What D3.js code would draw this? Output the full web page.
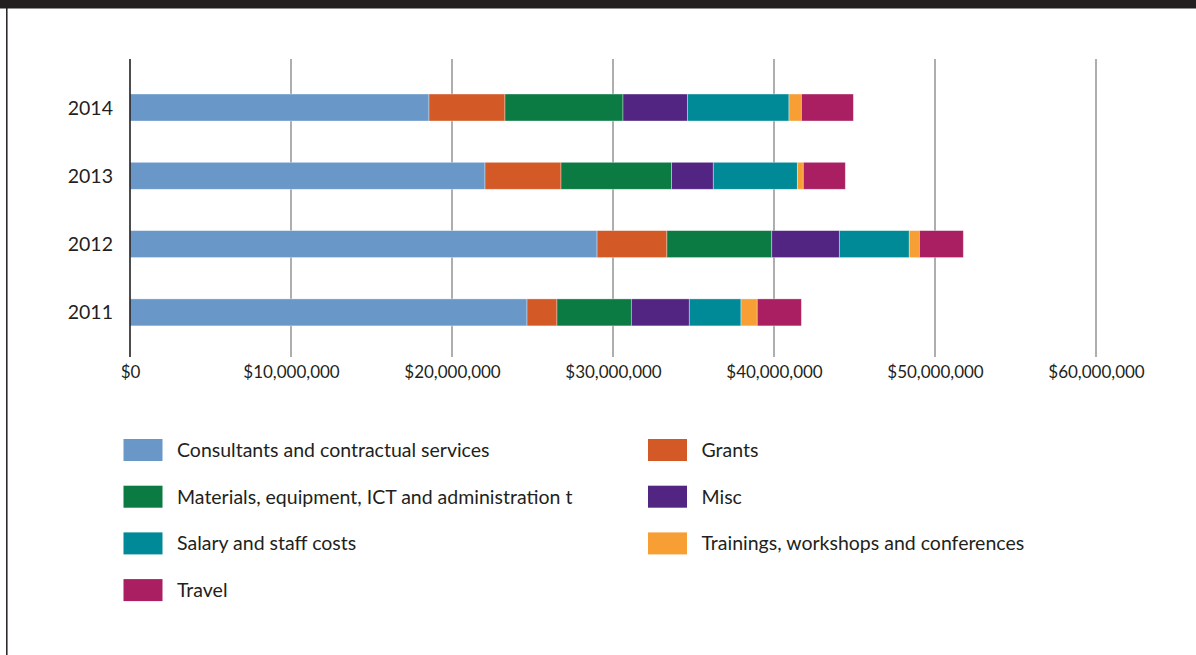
<!DOCTYPE html>
<html>
<head>
<meta charset="utf-8">
<script src="https://cdn.jsdelivr.net/npm/d3@7"></script>
<style>
  html, body { margin: 0; padding: 0; background: #fff; }
  svg { display: block; }
  text { font-family: Lato, "Open Sans", sans-serif; fill: #231f20; }
</style>
</head>
<body>
<svg id="chart" width="1196" height="655"></svg>
<script>
// Expenditure by category and year (US$ millions)
const years = ["2014", "2013", "2012", "2011"];
const categories = [
  "Consultants and contractual services",
  "Grants",
  "Materials, equipment, ICT and administration t",
  "Misc",
  "Salary and staff costs",
  "Trainings, workshops and conferences",
  "Travel"
];
const consultants = [18.57, 22.05, 29.01, 24.66];
const grants      = [4.72, 4.72, 4.34, 1.86];
const materials   = [7.33, 6.87, 6.51, 4.62];
const misc        = [4.00, 2.59, 4.20, 3.60];
const salary      = [6.31, 5.22, 4.34, 3.21];
const trainings   = [0.77, 0.37, 0.63, 1.01];
const travel      = [3.23, 2.61, 2.73, 2.74];
const tickValues  = [0, 10, 20, 30, 40, 50, 60];
const colors = ["#6897c8", "#d35a27", "#0b7a43", "#522583", "#008996", "#f79f35", "#aa1f61"];

const seriesValues = [consultants, grants, materials, misc, salary, trainings, travel];
const rows = years.map((y, i) => {
  const r = { year: y };
  categories.forEach((c, k) => { r[c] = seriesValues[k][i] * 1e6; });
  return r;
});

const svg = d3.select("#chart");

// frame: dark band along the top, thin rule down the left
svg.append("rect").attr("x", 0).attr("y", 0).attr("width", 1196).attr("height", 8.5).attr("fill", "#231f20");
svg.append("line").attr("x1", 6.8).attr("x2", 6.8).attr("y1", 8).attr("y2", 655)
  .attr("stroke", "#231f20").attr("stroke-width", 1.5);

const x = d3.scaleLinear().domain([0, 60e6]).range([130, 1096]);
const y = d3.scaleBand().domain(years).range([52.7, 367.2]).padding(0.605);

const gridTop = 59, gridBottom = 357;

// vertical gridlines
svg.append("g").selectAll("line").data(tickValues.slice(1)).join("line")
  .attr("x1", d => x(d * 1e6)).attr("x2", d => x(d * 1e6))
  .attr("y1", gridTop).attr("y2", gridBottom)
  .attr("stroke", "#9a9a9a").attr("stroke-width", 1.6);

// stacked bars
const stack = d3.stack().keys(categories);
const layers = stack(rows);
svg.append("g").selectAll("g").data(layers).join("g")
  .attr("fill", (d, i) => colors[i])
  .selectAll("rect").data(d => d).join("rect")
  .attr("x", d => x(d[0]))
  .attr("width", d => x(d[1]) - x(d[0]))
  .attr("y", d => y(d.data.year))
  .attr("height", y.bandwidth())
  .attr("stroke", "rgba(255,255,255,0.45)").attr("stroke-width", 0.8);

// zero axis line
svg.append("line").attr("x1", x(0)).attr("x2", x(0)).attr("y1", gridTop).attr("y2", gridBottom)
  .attr("stroke", "#231f20").attr("stroke-width", 1.6);

// x axis labels
const fmt = v => "$" + d3.format(",")(v * 1e6);
const xAxis = d3.axisBottom(x).tickValues(tickValues.map(v => v * 1e6))
  .tickFormat(v => fmt(v / 1e6)).tickSize(0).tickPadding(0);
const gx = svg.append("g").attr("transform", `translate(0, 366)`).call(xAxis);
gx.select(".domain").remove();
gx.selectAll("text").attr("font-size", 17).attr("dy", "0.71em")
  .style("font-family", "Lato, sans-serif").attr("fill", "#231f20");

// y axis labels
const yAxis = d3.axisLeft(y).tickSize(0).tickPadding(0);
const gy = svg.append("g").attr("transform", `translate(113, 0)`).call(yAxis);
gy.select(".domain").remove();
gy.selectAll("text").attr("font-size", 19.5).attr("dy", "0.36em")
  .style("font-family", "Lato, sans-serif").attr("fill", "#231f20");

// legend, two columns
const legendCols = [123.5, 648];
const legendTop = 439, legendStep = 46.7;
const legend = svg.append("g").selectAll("g").data(categories).join("g")
  .attr("transform", (d, i) => `translate(${legendCols[i % 2]}, ${legendTop + Math.floor(i / 2) * legendStep})`);
legend.append("rect").attr("width", 39).attr("height", 22).attr("fill", (d, i) => colors[i]);
legend.append("text").attr("x", 53.5).attr("y", 11).attr("dy", "0.36em")
  .attr("font-size", 19.5).text(d => d);
</script>
</body>
</html>
